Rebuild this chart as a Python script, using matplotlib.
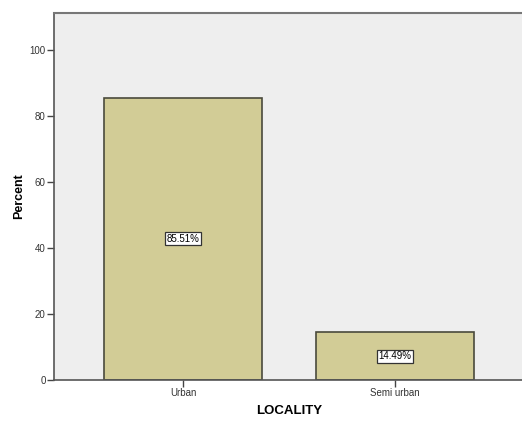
import numpy as np
import matplotlib.pyplot as plt

plt.rcParams['font.family'] = ['Liberation Sans', 'DejaVu Sans']

categories = ["Urban", "Semi urban"]
percents = [85.51, 14.49]
labels = ["85.51%", "14.49%"]

W, H = 522, 421
fig = plt.figure(figsize=(W / 100, H / 100), dpi=100)
fig.patch.set_facecolor("white")

# axes box in pixels: left 54, right ~524, top 13, bottom 380
ax = fig.add_axes([54 / W, 1 - 380 / H, (524 - 54) / W, (380 - 13) / H])
ax.set_facecolor("#eeeeee")

x = np.arange(len(categories))
ax.bar(x, percents, width=0.745, color="#d2cc96", edgecolor="#4a4a3c", linewidth=1.2, zorder=2)

for xi, v, lab in zip(x, percents, labels):
    ax.text(xi, v / 2, lab, ha="center", va="center", fontsize=7, color="black", zorder=3,
            bbox=dict(boxstyle="square,pad=0.15", facecolor="white", edgecolor="#333333", linewidth=0.9))

ax.set_xlim(-0.608, 1.608)
ax.set_ylim(0, 111.2)
ax.set_yticks([0, 20, 40, 60, 80, 100])
ax.set_xticks(x)
ax.set_xticklabels(categories)

for s in ["left", "bottom"]:
    ax.spines[s].set_color("#555555")
    ax.spines[s].set_linewidth(1.2)
ax.spines["top"].set_color("#777777")
ax.spines["top"].set_linewidth(1.5)
ax.spines["right"].set_visible(False)

ax.tick_params(axis="y", length=5, width=1, color="#444444", labelsize=7, labelcolor="#333333", pad=1)
ax.tick_params(axis="x", length=5, width=1, color="#444444", labelsize=7, labelcolor="#333333", pad=1)

ax.set_ylabel("Percent", fontsize=9, fontweight="bold", labelpad=3)
ax.set_xlabel("LOCALITY", fontsize=9.5, fontweight="bold", labelpad=5)

fig.savefig("out.png", dpi=100)
